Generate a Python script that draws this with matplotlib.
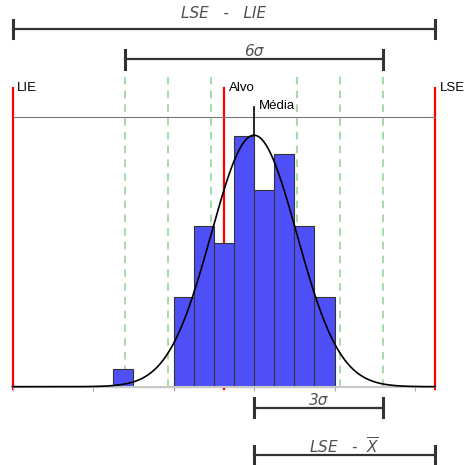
import numpy as np
import matplotlib.pyplot as plt

plt.rcParams['font.family'] = ['Liberation Sans', 'DejaVu Sans']
plt.rcParams['mathtext.fontset'] = 'dejavusans'

# process data (histogram of measurements)
bin_edges = np.arange(6.5, 12.01, 0.5)
counts = [1, 0, 0, 5, 9, 8, 14, 11, 13, 9, 5]
lie = 4.0       # lower spec limit
lse = 14.5      # upper spec limit
alvo = 9.25     # target
media = 10.0    # process mean
sigma = 1.065   # process std dev
n_total = sum(counts)
bin_w = bin_edges[1] - bin_edges[0]

fig = plt.figure(figsize=(4.67, 4.65), dpi=100)
ax = fig.add_axes([0, 0, 1, 1])
ax.set_xlim(3.689, 15.292)
ax.set_ylim(-4.374, 21.60)

# sigma guide lines
for k in [-3, -2, -1, 1, 2, 3]:
    ax.plot([media + k*sigma]*2, [0, 17.36], color='#8fd08f', lw=1.1,
            dashes=(5, 4), zorder=1)

# spec limits and target
for xv in [lie, lse, alvo]:
    ax.plot([xv, xv], [-0.15, 16.69], color='red', lw=1.6, zorder=1)
ax.plot([lie, lse], [15.07, 15.07], color='#777777', lw=0.8, zorder=1)
ax.plot([media, media], [0, 15.6], color='black', lw=1.2, zorder=1)

# histogram
ax.bar(bin_edges[:-1], counts, width=bin_w, align='edge', color='#4f4ff7',
       edgecolor='#333333', linewidth=0.8, zorder=2)

# normal curve
xs = np.linspace(lie, lse, 400)
ys = n_total * bin_w / (sigma*np.sqrt(2*np.pi)) * np.exp(-0.5*((xs-media)/sigma)**2)
ax.plot(xs, ys, color='black', lw=1.2, zorder=3)

# labels
ax.text(lie + 0.1, 16.69, 'LIE', fontsize=9.5, va='center', ha='left')
ax.text(alvo + 0.13, 16.69, 'Alvo', fontsize=9.5, va='center', ha='left')
ax.text(lse + 0.12, 16.69, 'LSE', fontsize=9.5, va='center', ha='left')
ax.text(media + 0.12, 15.70, 'Média', fontsize=9.5, va='center', ha='left')


def dim(x0, x1, y, label, ty):
    h = 0.53
    ax.plot([x0, x1], [y, y], color='#333333', lw=1.6, zorder=4)
    ax.plot([x0, x0], [y-h, y+h], color='#333333', lw=2.2, zorder=4)
    ax.plot([x1, x1], [y-h, y+h], color='#333333', lw=2.2, zorder=4)
    ax.text((x0+x1)/2, ty, label, ha='center', va='center', fontsize=11,
            style='italic', color='#505050', family='DejaVu Sans')


dim(lie, lse, 19.98, 'LSE   -   LIE', 20.82)
dim(media - 3*sigma, media + 3*sigma, 18.29, '6σ', 18.75)
dim(media, media + 3*sigma, -1.17, '3σ', -0.77)
dim(media, lse, -3.82, r'LSE   -  $\overline{X}$', -3.33)

# axis
for s in ['left', 'top', 'right']:
    ax.spines[s].set_visible(False)
ax.spines['bottom'].set_position(('data', 0))
ax.spines['bottom'].set_bounds(lie, lse)
ax.spines['bottom'].set_color('#c8c8c8')
ax.spines['bottom'].set_linewidth(1.5)
ax.set_xticks(np.arange(4, 15, 2))
ax.set_xticklabels([])
ax.tick_params(axis='x', length=3, color='#aaaaaa', direction='out')
ax.set_yticks([])
ax.patch.set_visible(False)

fig.savefig('out.png', dpi=100)
